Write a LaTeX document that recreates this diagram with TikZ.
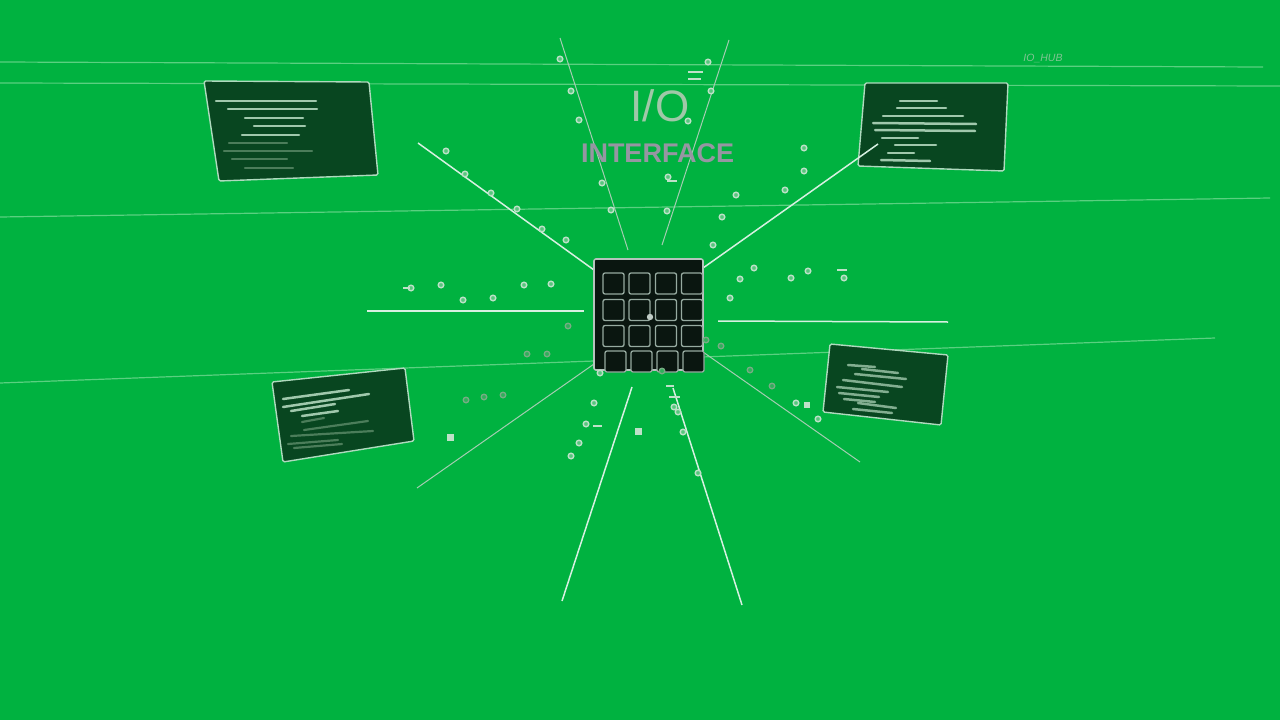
\documentclass[tikz,border=0pt]{standalone}
\usepackage{fontspec}
\setmainfont{Liberation Sans}
\definecolor{bg}{RGB}{0,178,64}
\definecolor{hline}{RGB}{90,208,128}
\definecolor{wline}{RGB}{215,240,225}
\definecolor{gline}{RGB}{165,205,178}
\definecolor{ringc}{RGB}{190,225,200}
\definecolor{gring}{RGB}{120,172,132}
\definecolor{panelc}{RGB}{8,70,32}
\definecolor{pborder}{RGB}{175,218,190}
\definecolor{ptext}{RGB}{160,200,172}
\definecolor{pfaint}{RGB}{75,125,90}
\definecolor{chipc}{RGB}{10,22,16}
\definecolor{cellc}{RGB}{150,170,160}
\definecolor{iotext}{RGB}{160,200,168}
\definecolor{inttext}{RGB}{150,150,162}
\tikzset{
  faintline/.style={draw=hline, line width=1.2pt},
  whiteray/.style={draw=wline, line width=1.5pt},
  greyray/.style={draw=gline, line width=1pt},
  panelbox/.style={draw=pborder, fill=panelc, line width=1.4pt, rounded corners=1.5pt},
  ptl/.style={draw=ptext, line width=2.5pt, line cap=round},
  pfl/.style={draw=pfaint, line width=2.2pt, line cap=round},
  ringdot/.style={draw=ringc, line width=1.4pt, fill=ringc!45!bg},
  gringdot/.style={draw=gring, line width=1.3pt, fill=gring!40!bg},
  dashmark/.style={draw=ringc, line width=1.4pt},
  cellbox/.style={draw=cellc, fill=chipc, line width=1.3pt, rounded corners=2pt, minimum width=21pt, minimum height=21pt, inner sep=0pt},
}
\begin{document}
\begin{tikzpicture}[x=1pt,y=-1pt]
\useasboundingbox (0,0) rectangle (1280,720);
\fill[bg] (0,0) rectangle (1280,720);

% faint long horizontal lines
\coordinate (h1a) at (0,62);   \coordinate (h1b) at (1263,67);
\coordinate (h2a) at (0,83);   \coordinate (h2b) at (1280,86);
\coordinate (h3a) at (0,217);  \coordinate (h3b) at (1270,198);
\coordinate (h4a) at (0,383);  \coordinate (h4b) at (1215,338);
\draw[faintline] (h1a) -- (h1b);
\draw[faintline] (h2a) -- (h2b);
\draw[faintline] (h3a) -- (h3b);
\draw[faintline] (h4a) -- (h4b);

% radiating rays
\coordinate (t1a) at (560,38);  \coordinate (t1b) at (628,250);
\coordinate (t2a) at (729,40);  \coordinate (t2b) at (662,245);
\coordinate (ula) at (418,143); \coordinate (ulb) at (594,270);
\coordinate (ura) at (703,268); \coordinate (urb) at (878,144);
\coordinate (la)  at (367,311); \coordinate (lb)  at (584,311);
\coordinate (ra)  at (718,321); \coordinate (rb)  at (948,322);
\coordinate (lla) at (594,364); \coordinate (llb) at (417,488);
\coordinate (lra) at (703,352); \coordinate (lrb) at (860,462);
\coordinate (b1a) at (632,387); \coordinate (b1b) at (562,601);
\coordinate (b2a) at (673,388); \coordinate (b2b) at (742,605);
\draw[greyray] (t1a) -- (t1b);
\draw[greyray] (t2a) -- (t2b);
\draw[whiteray] (ula) -- (ulb);
\draw[whiteray] (la) -- (lb);
\draw[whiteray] (ra) -- (rb);
\draw[greyray] (lla) -- (llb);
\draw[greyray] (lra) -- (lrb);
\draw[whiteray] (b1a) -- (b1b);
\draw[whiteray] (b2a) -- (b2b);

% panels
\draw[panelbox] (204,81) -- (369,82) -- (378,175) -- (219,181) -- cycle;
\draw[ptl] (216,101) -- (316,101);
\draw[ptl] (228,109) -- (317,109);
\draw[ptl] (245,118) -- (303,118);
\draw[ptl] (254,126) -- (305,126);
\draw[ptl] (242,135) -- (299,135);
\draw[pfl] (229,143) -- (287,143);
\draw[pfl] (224,151) -- (312,151);
\draw[pfl] (232,159) -- (287,159);
\draw[pfl] (245,168) -- (293,168);

\draw[panelbox] (865,83) -- (1008,83) -- (1004,171) -- (858,166) -- cycle;
\draw[whiteray] (ura) -- (urb);
\draw[ptl] (900,101) -- (937,101);
\draw[ptl] (897,108) -- (946,108);
\draw[ptl] (883,116) -- (963,116);
\draw[ptl] (873,123) -- (976,124);
\draw[ptl] (875,130) -- (975,131);
\draw[ptl] (882,138) -- (918,138);
\draw[ptl] (895,145) -- (936,145);
\draw[ptl] (888,153) -- (914,153);
\draw[ptl] (881,160) -- (930,161);

\draw[panelbox] (272,382) -- (405,368) -- (414,441) -- (283,462) -- cycle;
\draw[ptl] (283,399) -- (349,390);
\draw[ptl] (283,407) -- (369,394);
\draw[ptl] (291,411) -- (335,404);
\draw[ptl] (302,416) -- (338,411);
\draw[pfl] (302,422) -- (324,418);
\draw[pfl] (304,430) -- (368,421);
\draw[pfl] (291,436) -- (373,431);
\draw[pfl] (288,444) -- (338,440);
\draw[pfl] (294,448) -- (342,444);

\draw[panelbox] (830,344) -- (948,355) -- (941,425) -- (823,412) -- cycle;
\draw[ptl, draw=ptext!80!panelc] (848,365) -- (875,367);
\draw[ptl, draw=ptext!80!panelc] (862,369) -- (898,373);
\draw[ptl, draw=ptext!80!panelc] (855,374) -- (906,379);
\draw[ptl, draw=ptext!80!panelc] (843,380) -- (902,387);
\draw[ptl, draw=ptext!80!panelc] (837,387) -- (888,392);
\draw[ptl, draw=ptext!80!panelc] (839,393) -- (879,397);
\draw[ptl, draw=ptext!80!panelc] (844,399) -- (875,402);
\draw[ptl, draw=ptext!80!panelc] (858,403) -- (896,408);
\draw[ptl, draw=ptext!80!panelc] (853,409) -- (892,413);

% central chip
\node[draw=cellc!70!white, fill=chipc, line width=1.6pt, rounded corners=2pt,
      minimum width=109pt, minimum height=111pt, inner sep=0pt] (chip) at (648.5,314.5) {};
\foreach \cx/\cy [count=\i] in {
  613.5/283.5, 639.5/283.5, 666/283.5, 692/283.5,
  613.5/310,   639.5/310,   666/310,   692/310,
  613.5/336,   639.5/336,   666/336,   692/336,
  615.5/361.5, 641.5/361.5, 667.5/361.5, 693.5/361.5}
  \node[cellbox] (cell\i) at (\cx,\cy) {};
\fill[cellc!60!white] (650,317) circle (3.2);

% rings
\foreach \px/\py in {560/59, 571/91, 579/120, 708/62, 711/91, 688/121, 602/183, 668/177,
  611/210, 667/211, 736/195, 722/217, 446/151, 465/174, 491/193, 517/209, 542/229, 566/240,
  804/148, 804/171, 785/190, 713/245, 754/268, 740/279, 730/298, 791/278, 808/271,
  844/278, 411/288, 441/285, 463/300, 493/298, 524/285, 551/284, 600/373, 594/403, 586/424,
  579/443, 571/456, 674/407, 678/412, 683/432, 698/473, 796/403, 818/419}
  \draw[ringdot] (\px,\py) circle (2.8);
\foreach \px/\py in {706/340, 721/346, 750/370, 772/386, 568/326, 527/354, 547/354, 662/371,
  466/400, 484/397, 503/395}
  \draw[gringdot] (\px,\py) circle (2.8);

% dash marks
\draw[dashmark] (688,72) -- (703,72);
\draw[dashmark] (688,79) -- (701,79);
\draw[dashmark] (667,181) -- (677,181);
\draw[dashmark] (837,270) -- (847,270);
\draw[dashmark] (403,288) -- (410,288);
\draw[dashmark] (593,426) -- (602,426);
\draw[dashmark] (666,386) -- (674,386);
\draw[dashmark] (669,397) -- (680,397);
% tiny square icons
\fill[ringc] (446.5,433.5) rectangle (453.5,440.5);
\fill[ringc] (634.5,427.5) rectangle (641.5,434.5);
\fill[ringc] (804,402) rectangle (810,408);

% texts
\node[text=iotext, font=\fontsize{44}{44}\selectfont, inner sep=0pt, anchor=base] (title) at (660,121) {I/O};
\node[text=inttext, font=\bfseries\fontsize{27}{27}\selectfont, inner sep=0pt, anchor=base] (subtitle) at (657.5,162) {INTERFACE};
\node[text=iotext!80!bg, font=\itshape\fontsize{10.5}{10.5}\selectfont, inner sep=0pt, anchor=base] (hub) at (1043,61) {IO\_HUB};
\end{tikzpicture}
\end{document}
